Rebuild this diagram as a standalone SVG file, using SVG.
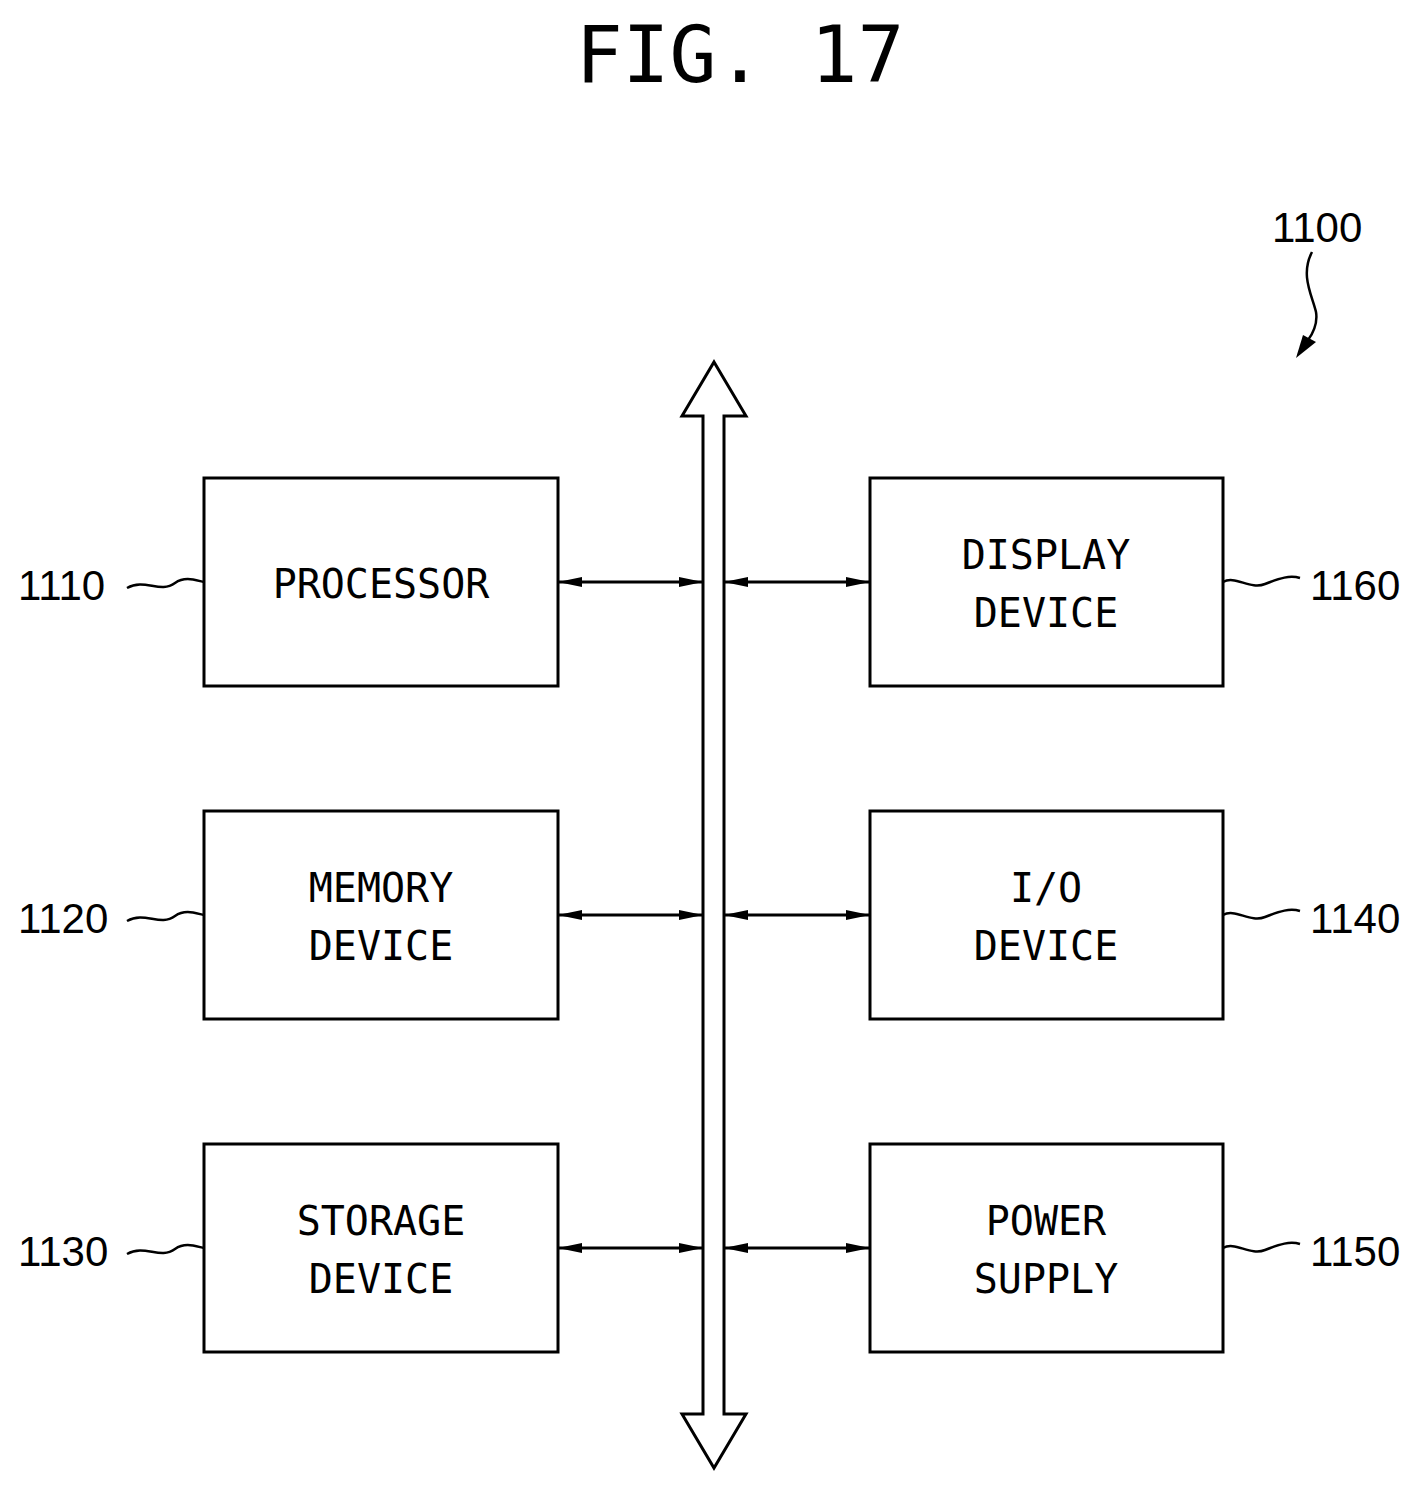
<svg xmlns="http://www.w3.org/2000/svg" width="1428" height="1491" viewBox="0 0 1428 1491">
<style>
.box{fill:#fff;stroke:#000;stroke-width:3}
.t{font-family:"DejaVu Sans Mono","Liberation Mono",monospace;font-size:40px;text-anchor:middle}
.n{font-family:"Liberation Sans",sans-serif;font-size:42px}
.c{fill:none;stroke:#000;stroke-width:3}
.w{fill:none;stroke:#000;stroke-width:2.5}
</style>
<defs>
<marker id="a" viewBox="0 0 10 6" refX="10" refY="3" markerWidth="10" markerHeight="6" markerUnits="userSpaceOnUse" orient="auto-start-reverse"><path d="M0,0 L10,3 L0,6 Z"/></marker>
<marker id="b" viewBox="0 0 24 10" refX="24" refY="5" markerWidth="24" markerHeight="10" markerUnits="userSpaceOnUse" orient="auto-start-reverse"><path d="M0,0 L24,5 L0,10 Z"/></marker>
</defs>
<text x="740" y="82" font-family="DejaVu Sans Mono,Liberation Mono,monospace" font-size="78" text-anchor="middle">FIG. 17</text>
<text class="n" x="1272" y="242">1100</text>
<path d="M1312,252 C1300,275 1312,295 1316,312 C1318,324 1312,335 1308,340" class="w"/>
<path d="M1296,358 L1303,335 L1316,342 Z"/>
<g id="bus"><path d="M714,362 L746,416 L724,416 L724,1414 L746,1414 L714,1468 L682,1414 L703,1414 L703,416 L682,416 Z" class="box"/></g>
<g id="connectors">
<line x1="558" y1="582" x2="703" y2="582" class="c" marker-start="url(#b)" marker-end="url(#b)"/>
<line x1="724" y1="582" x2="870" y2="582" class="c" marker-start="url(#b)" marker-end="url(#b)"/>
<line x1="558" y1="915" x2="703" y2="915" class="c" marker-start="url(#b)" marker-end="url(#b)"/>
<line x1="724" y1="915" x2="870" y2="915" class="c" marker-start="url(#b)" marker-end="url(#b)"/>
<line x1="558" y1="1248" x2="703" y2="1248" class="c" marker-start="url(#b)" marker-end="url(#b)"/>
<line x1="724" y1="1248" x2="870" y2="1248" class="c" marker-start="url(#b)" marker-end="url(#b)"/>
</g>
<g id="n1110"><rect class="box" x="204" y="478" width="354" height="208"/><text class="t" x="381" y="598">PROCESSOR</text>
<text class="n" x="18" y="600">1110</text><path class="w" d="M127,588 C145,578 160,594 175,583 C185,576 195,580 204,582"/></g>
<g id="n1120"><rect class="box" x="204" y="811" width="354" height="208"/><text class="t" x="381" y="902">MEMORY</text><text class="t" x="381" y="960">DEVICE</text>
<text class="n" x="18" y="933">1120</text><path class="w" d="M127,921 C145,911 160,927 175,916 C185,909 195,913 204,915"/></g>
<g id="n1130"><rect class="box" x="204" y="1144" width="354" height="208"/><text class="t" x="381" y="1235">STORAGE</text><text class="t" x="381" y="1293">DEVICE</text>
<text class="n" x="18" y="1266">1130</text><path class="w" d="M127,1254 C145,1244 160,1260 175,1249 C185,1242 195,1246 204,1248"/></g>
<g id="n1160"><rect class="box" x="870" y="478" width="353" height="208"/><text class="t" x="1046" y="569">DISPLAY</text><text class="t" x="1046" y="627">DEVICE</text>
<text class="n" x="1310" y="600">1160</text><path class="w" d="M1223,582 C1235,575 1250,590 1265,584 C1280,578 1290,575 1300,578"/></g>
<g id="n1140"><rect class="box" x="870" y="811" width="353" height="208"/><text class="t" x="1046" y="902">I/O</text><text class="t" x="1046" y="960">DEVICE</text>
<text class="n" x="1310" y="933">1140</text><path class="w" d="M1223,915 C1235,908 1250,923 1265,917 C1280,911 1290,908 1300,911"/></g>
<g id="n1150"><rect class="box" x="870" y="1144" width="353" height="208"/><text class="t" x="1046" y="1235">POWER</text><text class="t" x="1046" y="1293">SUPPLY</text>
<text class="n" x="1310" y="1266">1150</text><path class="w" d="M1223,1248 C1235,1241 1250,1256 1265,1250 C1280,1244 1290,1241 1300,1244"/></g>
</svg>
